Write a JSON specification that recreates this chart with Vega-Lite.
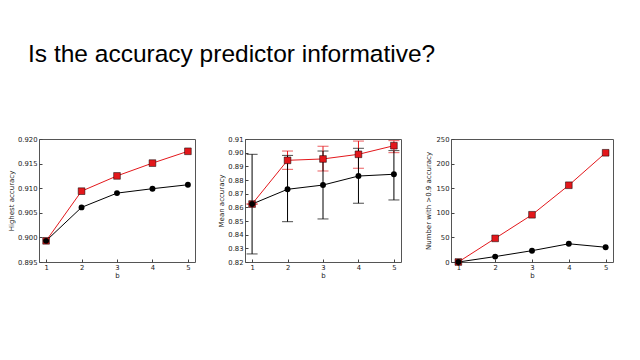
{
  "$schema": "https://vega.github.io/schema/vega-lite/v6.json",
  "background": "white",
  "padding": {"left": 7, "top": 42, "right": 0, "bottom": 0},
  "title": {"text": "Is the accuracy predictor informative?", "anchor": "start", "frame": "bounds", "dx": 21, "offset": 68, "fontSize": 24.5, "font": "Liberation Sans", "fontWeight": "normal", "color": "#000000"},
  "spacing": 21,
  "datasets": {
    "h": [
      {"method": "PNAS", "b": 1, "v": 0.8993}, {"method": "PNAS", "b": 2, "v": 0.9094}, {"method": "PNAS", "b": 3, "v": 0.9125}, {"method": "PNAS", "b": 4, "v": 0.9151}, {"method": "PNAS", "b": 5, "v": 0.9175},
      {"method": "Rand", "b": 1, "v": 0.8993}, {"method": "Rand", "b": 2, "v": 0.9061}, {"method": "Rand", "b": 3, "v": 0.909}, {"method": "Rand", "b": 4, "v": 0.9099}, {"method": "Rand", "b": 5, "v": 0.9107}
    ],
    "m": [
      {"method": "PNAS", "b": 1, "v": 0.8624, "lo": 0.8624, "hi": 0.8624}, {"method": "PNAS", "b": 2, "v": 0.8944, "lo": 0.8878, "hi": 0.9012}, {"method": "PNAS", "b": 3, "v": 0.8954, "lo": 0.8866, "hi": 0.9047}, {"method": "PNAS", "b": 4, "v": 0.8988, "lo": 0.8886, "hi": 0.9085}, {"method": "PNAS", "b": 5, "v": 0.9051, "lo": 0.9, "hi": 0.9088},
      {"method": "Rand", "b": 1, "v": 0.8624, "lo": 0.8259, "hi": 0.8988}, {"method": "Rand", "b": 2, "v": 0.8732, "lo": 0.8495, "hi": 0.898}, {"method": "Rand", "b": 3, "v": 0.8763, "lo": 0.8515, "hi": 0.9012}, {"method": "Rand", "b": 4, "v": 0.8829, "lo": 0.863, "hi": 0.9032}, {"method": "Rand", "b": 5, "v": 0.8842, "lo": 0.8654, "hi": 0.9015}
    ],
    "n": [
      {"method": "PNAS", "b": 1, "v": 0}, {"method": "PNAS", "b": 2, "v": 48}, {"method": "PNAS", "b": 3, "v": 96}, {"method": "PNAS", "b": 4, "v": 156}, {"method": "PNAS", "b": 5, "v": 222},
      {"method": "Rand", "b": 1, "v": 0}, {"method": "Rand", "b": 2, "v": 11}, {"method": "Rand", "b": 3, "v": 23}, {"method": "Rand", "b": 4, "v": 37}, {"method": "Rand", "b": 5, "v": 30}
    ]
  },
  "hconcat": [
    {
      "width": 156, "height": 123,
      "data": {"name": "h"},
      "encoding": {
        "x": {"field": "b", "type": "quantitative", "scale": {"domain": [0.8, 5.2], "nice": false, "zero": false}, "axis": {"values": [1, 2, 3, 4, 5], "format": "d", "title": "b"}},
        "y": {"field": "v", "type": "quantitative", "scale": {"domain": [0.895, 0.92], "nice": false, "zero": false}, "axis": {"values": [0.895, 0.9, 0.905, 0.91, 0.915, 0.92], "format": ".3f", "title": "Highest accuracy"}}
      },
      "layer": [
        {"mark": {"type": "line", "strokeWidth": 1}, "encoding": {"color": {"field": "method", "type": "nominal", "scale": {"domain": ["PNAS", "Rand"], "range": ["#e3171b", "#000000"]}, "legend": null}}},
        {"transform": [{"filter": "datum.method === 'PNAS'"}], "mark": {"type": "point", "shape": "square", "filled": true, "size": 45, "color": "#e3171b", "stroke": "#000000", "strokeWidth": 0.5, "opacity": 1}},
        {"transform": [{"filter": "datum.method === 'Rand'"}], "mark": {"type": "point", "shape": "circle", "filled": true, "size": 35, "color": "#000000", "opacity": 1}},
        {"mark": {"type": "point", "filled": true, "fillOpacity": 0, "strokeOpacity": 0},
         "encoding": {"shape": {"field": "method", "type": "nominal",
           "scale": {"domain": ["PNAS", "Rand"], "range": ["M-0.34,0H2.02M-1,-0.66H0.32V0.66H-1ZM1.36,-0.66H2.68V0.66H1.36Z", "M-0.34,0H2.02M0.32,0A0.66,0.66,0,1,1,-1,0A0.66,0.66,0,1,1,0.32,0ZM2.68,0A0.66,0.66,0,1,1,1.36,0A0.66,0.66,0,1,1,2.68,0Z"]},
           "legend": {"title": null, "orient": "none", "legendX": 4, "legendY": 4, "padding": 3.5, "strokeColor": "#555555", "fillColor": "#ffffff", "symbolSize": 100, "labelFontSize": 8.5, "labelFont": "DejaVu Sans", "labelColor": "#111111", "labelOffset": 15, "rowPadding": 3,
             "encode": {"symbols": {"fill": {"condition": {"test": "datum.value === 'PNAS'", "value": "#e3171b"}, "value": "#000000"}, "stroke": {"condition": {"test": "datum.value === 'PNAS'", "value": "#e3171b"}, "value": "#000000"}, "strokeWidth": {"value": 1}, "opacity": {"value": 1}, "fillOpacity": {"value": 1}, "strokeOpacity": {"value": 1}}}}}}}
      ]
    },
    {
      "width": 156, "height": 123,
      "data": {"name": "m"},
      "encoding": {
        "x": {"field": "b", "type": "quantitative", "scale": {"domain": [0.8, 5.2], "nice": false, "zero": false}, "axis": {"values": [1, 2, 3, 4, 5], "format": "d", "title": "b"}},
        "y": {"field": "v", "type": "quantitative", "scale": {"domain": [0.82, 0.91], "nice": false, "zero": false}, "axis": {"values": [0.82, 0.83, 0.84, 0.85, 0.86, 0.87, 0.88, 0.89, 0.9, 0.91], "format": ".2f", "title": "Mean accuracy"}}
      },
      "layer": [
        {"mark": {"type": "errorbar", "ticks": {"size": 11}, "thickness": 1},
         "encoding": {
           "y": {"field": "lo", "type": "quantitative", "scale": {"domain": [0.82, 0.91], "nice": false, "zero": false}, "axis": {"values": [0.82, 0.83, 0.84, 0.85, 0.86, 0.87, 0.88, 0.89, 0.9, 0.91], "format": ".2f", "title": "Mean accuracy"}, "title": "Mean accuracy"},
           "y2": {"field": "hi"},
           "color": {"field": "method", "type": "nominal", "scale": {"domain": ["PNAS", "Rand"], "range": ["#e3171b", "#000000"]}, "legend": null}}},
        {"mark": {"type": "line", "strokeWidth": 1}, "encoding": {"color": {"field": "method", "type": "nominal", "scale": {"domain": ["PNAS", "Rand"], "range": ["#e3171b", "#000000"]}, "legend": null}}},
        {"transform": [{"filter": "datum.method === 'PNAS'"}], "mark": {"type": "point", "shape": "square", "filled": true, "size": 45, "color": "#e3171b", "stroke": "#000000", "strokeWidth": 0.5, "opacity": 1}},
        {"transform": [{"filter": "datum.method === 'Rand'"}], "mark": {"type": "point", "shape": "circle", "filled": true, "size": 35, "color": "#000000", "opacity": 1}},
        {"mark": {"type": "point", "filled": true, "fillOpacity": 0, "strokeOpacity": 0},
         "encoding": {"shape": {"field": "method", "type": "nominal",
           "scale": {"domain": ["PNAS", "Rand"], "range": ["M-0.34,0H2.02M-1,-0.66H0.32V0.66H-1ZM1.36,-0.66H2.68V0.66H1.36ZM-0.84,-0.9H0.16M-0.34,-0.9V0.9M-0.84,0.9H0.16M1.52,-0.9H2.52M2.02,-0.9V0.9M1.52,0.9H2.52", "M-0.34,0H2.02M0.32,0A0.66,0.66,0,1,1,-1,0A0.66,0.66,0,1,1,0.32,0ZM2.68,0A0.66,0.66,0,1,1,1.36,0A0.66,0.66,0,1,1,2.68,0ZM-0.84,-0.9H0.16M-0.34,-0.9V0.9M-0.84,0.9H0.16M1.52,-0.9H2.52M2.02,-0.9V0.9M1.52,0.9H2.52"]},
           "legend": {"title": null, "orient": "none", "legendX": 100, "legendY": 89, "padding": 3.5, "strokeColor": "#555555", "fillColor": "#ffffff", "symbolSize": 100, "labelFontSize": 8.5, "labelFont": "DejaVu Sans", "labelColor": "#111111", "labelOffset": 15, "rowPadding": 3,
             "encode": {"symbols": {"fill": {"condition": {"test": "datum.value === 'PNAS'", "value": "#e3171b"}, "value": "#000000"}, "stroke": {"condition": {"test": "datum.value === 'PNAS'", "value": "#e3171b"}, "value": "#000000"}, "strokeWidth": {"value": 1}, "opacity": {"value": 1}, "fillOpacity": {"value": 1}, "strokeOpacity": {"value": 1}}}}}}}
      ]
    },
    {
      "width": 162, "height": 123,
      "data": {"name": "n"},
      "encoding": {
        "x": {"field": "b", "type": "quantitative", "scale": {"domain": [0.8, 5.2], "nice": false, "zero": false}, "axis": {"values": [1, 2, 3, 4, 5], "format": "d", "title": "b"}},
        "y": {"field": "v", "type": "quantitative", "scale": {"domain": [0, 250], "nice": false}, "axis": {"values": [0, 50, 100, 150, 200, 250], "format": "d", "title": "Number with >0.9 accuracy", "titlePadding": 5}}
      },
      "layer": [
        {"mark": {"type": "line", "strokeWidth": 1}, "encoding": {"color": {"field": "method", "type": "nominal", "scale": {"domain": ["PNAS", "Rand"], "range": ["#e3171b", "#000000"]}, "legend": null}}},
        {"transform": [{"filter": "datum.method === 'PNAS'"}], "mark": {"type": "point", "shape": "square", "filled": true, "size": 45, "color": "#e3171b", "stroke": "#000000", "strokeWidth": 0.5, "opacity": 1}},
        {"transform": [{"filter": "datum.method === 'Rand'"}], "mark": {"type": "point", "shape": "circle", "filled": true, "size": 35, "color": "#000000", "opacity": 1}},
        {"mark": {"type": "point", "filled": true, "fillOpacity": 0, "strokeOpacity": 0},
         "encoding": {"shape": {"field": "method", "type": "nominal",
           "scale": {"domain": ["PNAS", "Rand"], "range": ["M-0.34,0H2.02M-1,-0.66H0.32V0.66H-1ZM1.36,-0.66H2.68V0.66H1.36Z", "M-0.34,0H2.02M0.32,0A0.66,0.66,0,1,1,-1,0A0.66,0.66,0,1,1,0.32,0ZM2.68,0A0.66,0.66,0,1,1,1.36,0A0.66,0.66,0,1,1,2.68,0Z"]},
           "legend": {"title": null, "orient": "none", "legendX": 5, "legendY": 4, "padding": 3.5, "strokeColor": "#555555", "fillColor": "#ffffff", "symbolSize": 100, "labelFontSize": 8.5, "labelFont": "DejaVu Sans", "labelColor": "#111111", "labelOffset": 15, "rowPadding": 3,
             "encode": {"symbols": {"fill": {"condition": {"test": "datum.value === 'PNAS'", "value": "#e3171b"}, "value": "#000000"}, "stroke": {"condition": {"test": "datum.value === 'PNAS'", "value": "#e3171b"}, "value": "#000000"}, "strokeWidth": {"value": 1}, "opacity": {"value": 1}, "fillOpacity": {"value": 1}, "strokeOpacity": {"value": 1}}}}}}}
      ]
    }
  ],
  "resolve": {"scale": {"shape": "independent", "color": "independent"}, "legend": {"shape": "independent"}},
  "config": {
    "view": {"stroke": "#555555", "strokeWidth": 1},
    "axis": {"grid": false, "domain": false, "labelFont": "DejaVu Sans", "labelFontSize": 6.8, "labelColor": "#222222", "titleFont": "DejaVu Sans", "titleFontSize": 7, "titleFontWeight": "normal", "titleColor": "#222222", "tickColor": "#444444", "tickSize": -3, "labelPadding": 5, "titlePadding": 3},
    "axisX": {"titlePadding": 1}
  }
}
